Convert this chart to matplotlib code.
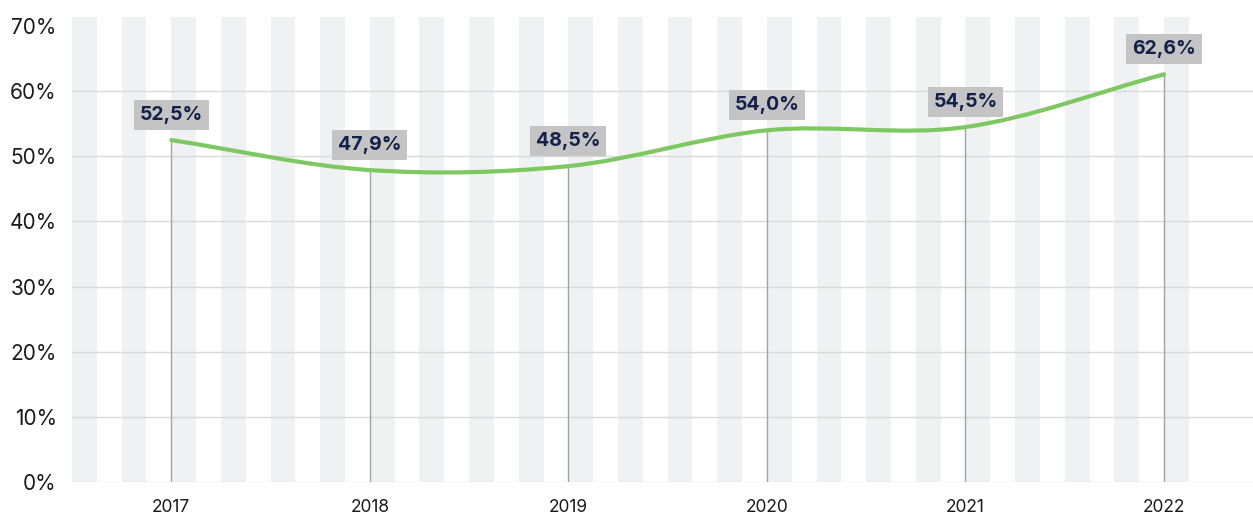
import numpy as np
import matplotlib.pyplot as plt
from matplotlib.path import Path
from matplotlib.patches import PathPatch

years = ['2017', '2018', '2019', '2020', '2021', '2022']
values = [52.5, 47.9, 48.5, 54.0, 54.5, 62.6]
labels = ['52,5%', '47,9%', '48,5%', '54,0%', '54,5%', '62,6%']
yticks = [0, 10, 20, 30, 40, 50, 60, 70]

plt.rcParams['font.family'] = ['Inter', 'DejaVu Sans']

fig = plt.figure(figsize=(12.53, 5.16), dpi=100)
ax = fig.add_axes([72 / 1253, 34 / 516, 1 - 72 / 1253, 465 / 516])

x = np.arange(len(years))
ax.set_xlim(-0.5, 5.448)
ax.set_ylim(0, 71.4)

# background stripes
for k in range(23):
    s = -0.5 + 0.25 * k
    ax.axvspan(s, s + 0.125, color='#f0f1f3', lw=0, zorder=0)

# horizontal grid
for t in yticks[:-1]:
    ax.axhline(t, color='#dadada', lw=1, zorder=1)

# drop lines
ax.vlines(x, 0, values, color='#a3a3a3', lw=1, zorder=2)

# catmull-rom style smooth line through the points
def smooth_path(xs, ys):
    n = len(xs)
    m = []
    for i in range(n):
        if i == 0:
            m.append(ys[1] - ys[0])
        elif i == n - 1:
            m.append(ys[-1] - ys[-2])
        else:
            m.append((ys[i + 1] - ys[i - 1]) / 2)
    verts = [(xs[0], ys[0])]
    codes = [Path.MOVETO]
    for i in range(n - 1):
        h = xs[i + 1] - xs[i]
        verts += [(xs[i] + h / 3, ys[i] + m[i] * h / 3),
                  (xs[i + 1] - h / 3, ys[i + 1] - m[i + 1] * h / 3),
                  (xs[i + 1], ys[i + 1])]
        codes += [Path.CURVE4] * 3
    return Path(verts, codes)

ax.add_patch(PathPatch(smooth_path(list(x.astype(float)), values), fc='none',
                       ec='#7ec862', lw=3, capstyle='round', zorder=3))

for xi, v, lab in zip(x, values, labels):
    ax.annotate(lab, (xi, v), xytext=(0, 25), textcoords='offset pixels',
                ha='center', va='center', fontsize=14, fontweight='bold',
                color='#13204a', zorder=4,
                bbox=dict(boxstyle='square,pad=0.3', fc='#c4c4c4', ec='none'))

ax.set_yticks(yticks)
ax.set_yticklabels([f'{t}%' for t in yticks], fontsize=15, color='#1a1a1a')
ax.set_xticks(x)
ax.set_xticklabels(years, fontsize=12.5, color='#1a1a1a')
ax.tick_params(axis='both', length=0)
ax.tick_params(axis='y', pad=11)
ax.tick_params(axis='x', pad=12)
for sp in ax.spines.values():
    sp.set_visible(False)

fig.savefig('out.png', dpi=100)
